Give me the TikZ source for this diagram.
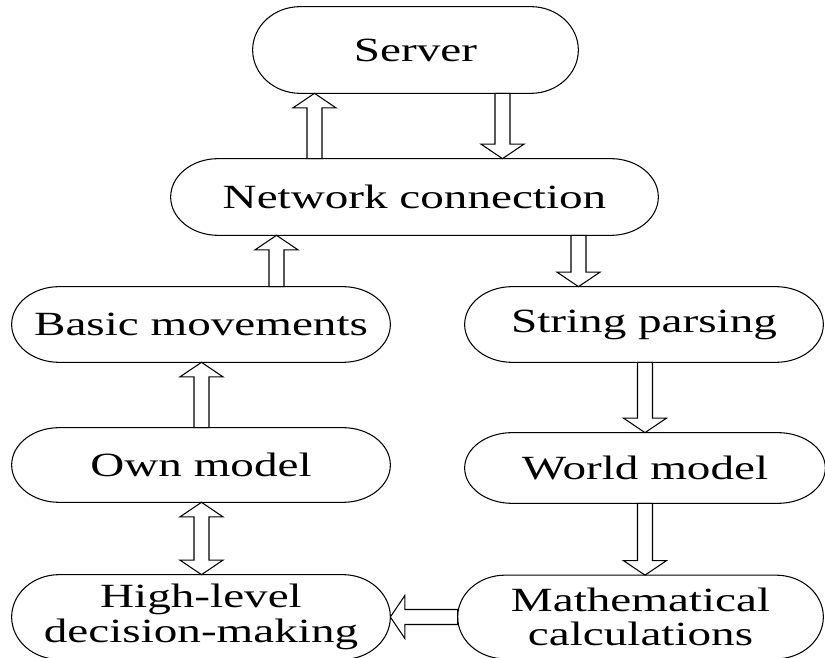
\documentclass[tikz,border=0pt]{standalone}
\usepackage{fontspec}
\setmainfont{Liberation Serif}[FakeStretch=1.39]
\usetikzlibrary{calc}

\newcommand{\shaftw}{0.15cm}
\newcommand{\headw}{0.43cm}
\newcommand{\headlen}{0.29cm}
\newcommand{\capr}{0.95cm}

% hollow block arrow from #1 to #2
\newcommand{\blockarrow}[2]{%
  \coordinate (ba-a) at (#1);
  \coordinate (ba-b) at (#2);
  \coordinate (ba-h) at ($(ba-b)!\headlen!(ba-a)$);
  \draw[arrowline] ($(ba-a)!\shaftw!90:(ba-b)$) -- ($(ba-h)!\shaftw!90:(ba-b)$)
    -- ($(ba-h)!\headw!90:(ba-b)$) -- (ba-b) -- ($(ba-h)!\headw!-90:(ba-b)$)
    -- ($(ba-h)!\shaftw!-90:(ba-b)$) -- ($(ba-a)!\shaftw!-90:(ba-b)$) -- cycle;}

% hollow block arrow with a head at both ends
\newcommand{\blockarrowboth}[2]{%
  \coordinate (ba-a) at (#1);
  \coordinate (ba-b) at (#2);
  \coordinate (ba-g) at ($(ba-a)!\headlen!(ba-b)$);
  \coordinate (ba-h) at ($(ba-b)!\headlen!(ba-a)$);
  \draw[arrowline] (ba-a) -- ($(ba-g)!\headw!90:(ba-b)$) -- ($(ba-g)!\shaftw!90:(ba-b)$)
    -- ($(ba-h)!\shaftw!90:(ba-b)$) -- ($(ba-h)!\headw!90:(ba-b)$) -- (ba-b)
    -- ($(ba-h)!\headw!-90:(ba-b)$) -- ($(ba-h)!\shaftw!-90:(ba-b)$)
    -- ($(ba-g)!\shaftw!-90:(ba-b)$) -- ($(ba-g)!\headw!-90:(ba-b)$) -- cycle;}

\tikzset{
  stage/.style 2 args={minimum width=#1cm, minimum height=#2cm, inner sep=0pt,
    align=center, font=\fontsize{19.3}{19.8}\selectfont},
  boxline/.style={line width=0.6pt},
  arrowline/.style={line width=0.6pt, fill=white},
}

\begin{document}
\begin{tikzpicture}
  \useasboundingbox (0,0) rectangle (16.5,13.16);

  \node[stage={6.50}{1.72}] (srv)   at (8.31,12.16) {Server};
  \node[stage={9.74}{1.52}] (net)   at (8.29,9.22)  {Network connection};
  \node[stage={7.56}{1.50}] (basic) at (4.02,6.67)  {Basic movements};
  \node[stage={7.16}{1.50}] (str)   at (12.88,6.67) {String parsing};
  \node[stage={7.56}{1.48}] (own)   at (4.02,3.86)  {Own model};
  \node[stage={7.20}{1.40}] (world) at (12.90,3.80) {World model};
  \node[stage={7.56}{1.68}] (high)  at (4.02,0.82)  {High-level\\decision-making};
  \node[stage={7.30}{1.66}] (math)  at (12.81,0.82) {Mathematical\\calculations};

  % outlines with half-elliptic ends
  \foreach \b in {srv,net,basic,str,own,world,high,math}
    \draw[boxline] let \p1=(\b.north west), \p2=(\b.south east), \n1={(\y1-\y2)/2} in
      (\x1+\capr,\y1) -- (\x2-\capr,\y1)
      arc[start angle=90, end angle=-90, x radius=\capr, y radius=\n1]
      -- (\x1+\capr,\y2)
      arc[start angle=270, end angle=90, x radius=\capr, y radius=\n1] -- cycle;

  % arrow columns
  \coordinate (c1) at (6.29,0);
  \coordinate (c2) at (10.05,0);
  \coordinate (c3) at (5.53,0);
  \coordinate (c4) at (11.57,0);
  \coordinate (c5) at (4.03,0);
  \coordinate (c6) at (12.90,0);

  \blockarrow{net.north -| c1}{srv.south -| c1}
  \blockarrow{srv.south -| c2}{net.north -| c2}
  \blockarrow{basic.north -| c3}{net.south -| c3}
  \blockarrow{net.south -| c4}{str.north -| c4}
  \blockarrow{own.north -| c5}{basic.south -| c5}
  \blockarrow{str.south -| c6}{world.north -| c6}
  \blockarrow{world.south -| c6}{math.north -| c6}
  \blockarrowboth{own.south -| c5}{high.north -| c5}
  \blockarrow{math.west}{math.west -| high.east}
\end{tikzpicture}
\end{document}
